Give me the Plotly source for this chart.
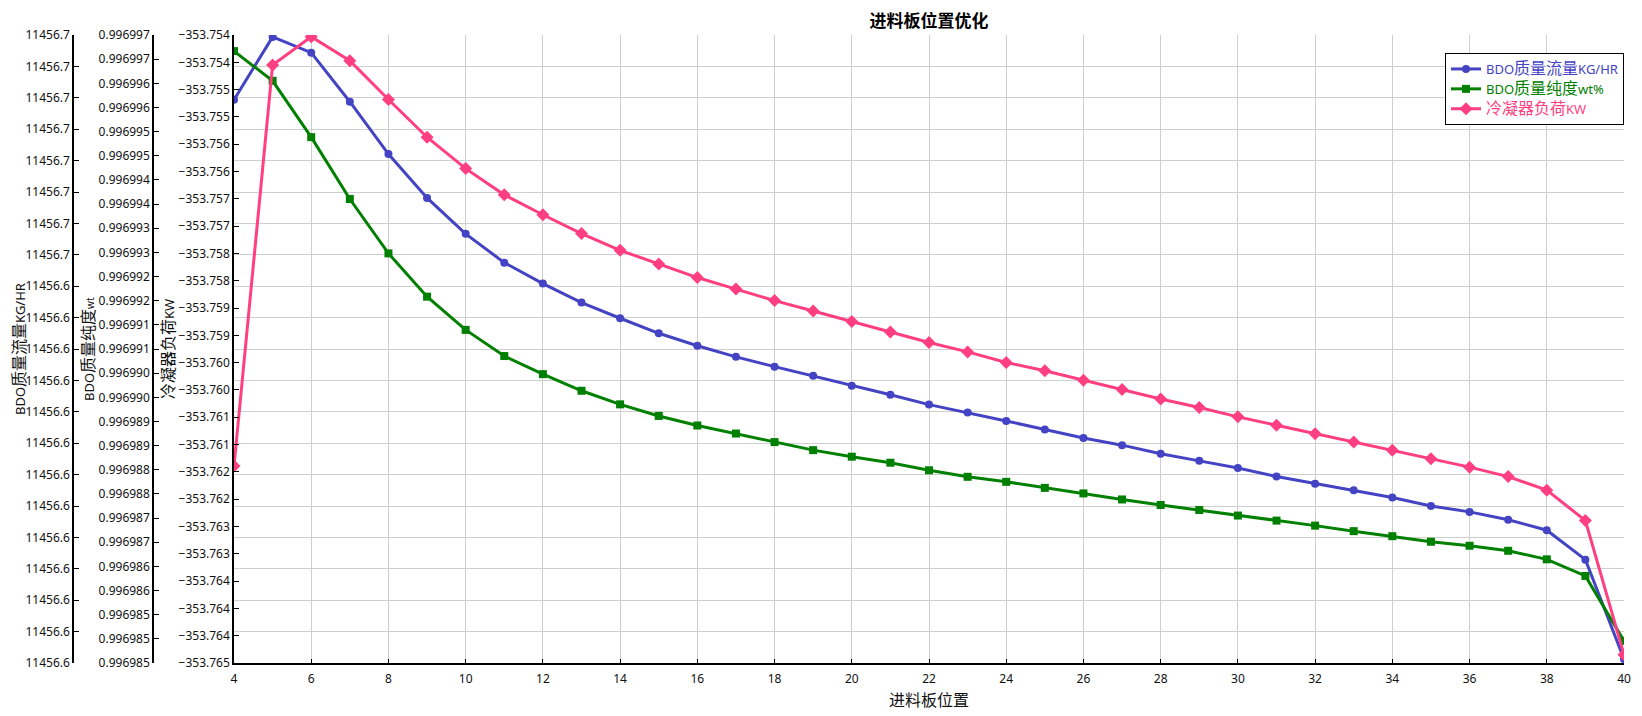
import numpy as np
import plotly.graph_objects as go

# feed stage positions
stages = list(range(4, 41))

# BDO mass flow, KG/HR
bdo_flow = [
    11456.6761, 11456.6857, 11456.6833, 11456.6758, 11456.6678, 11456.6611,
    11456.6556, 11456.6512, 11456.6480, 11456.6451, 11456.6427, 11456.6404,
    11456.6385, 11456.6368, 11456.6353, 11456.6339, 11456.6324, 11456.6310,
    11456.6295, 11456.6283, 11456.6270, 11456.6257, 11456.6244, 11456.6233,
    11456.6220, 11456.6209, 11456.6198, 11456.6185, 11456.6174, 11456.6164,
    11456.6153, 11456.6140, 11456.6131, 11456.6119, 11456.6103, 11456.6058,
    11456.5906,
]

# BDO mass purity
bdo_purity = [
    0.99699668, 0.99699609, 0.99699497, 0.99699374, 0.99699266, 0.99699180,
    0.99699114, 0.99699062, 0.99699026, 0.99698993, 0.99698966, 0.99698943,
    0.99698924, 0.99698908, 0.99698891, 0.99698875, 0.99698862, 0.99698850,
    0.99698835, 0.99698822, 0.99698812, 0.99698800, 0.99698789, 0.99698777,
    0.99698766, 0.99698756, 0.99698745, 0.99698735, 0.99698725, 0.99698714,
    0.99698704, 0.99698693, 0.99698685, 0.99698675, 0.99698658, 0.99698625,
    0.99698496,
]

# condenser duty, KW
condenser_duty = [
    -353.761498, -353.754447, -353.753950, -353.754373, -353.755054, -353.755717,
    -353.756269, -353.756730, -353.757080, -353.757411, -353.757705, -353.757945,
    -353.758184, -353.758387, -353.758589, -353.758773, -353.758958, -353.759142,
    -353.759326, -353.759491, -353.759676, -353.759823, -353.759989, -353.760154,
    -353.760320, -353.760467, -353.760633, -353.760780, -353.760928, -353.761075,
    -353.761222, -353.761369, -353.761517, -353.761683, -353.761922, -353.762456,
    -353.764813,
]

# page body has an 8px margin, so the figure is a bit smaller than the window
W, H = 1634, 708
PLOT_L, PLOT_R, PLOT_T, PLOT_B = 226, 1616, 27, 655

BLUE = "#4343C4"
GREEN = "#008000"
PINK = "#FF3F80"
FONT = "Noto Sans, Noto Sans CJK SC, sans-serif"
CJK = "Noto Sans CJK SC, Noto Sans, sans-serif"

# axis ranges / ticks
flow_lo, flow_step, flow_n = 11456.59, 0.0048, 21
pur_lo, pur_step, pur_n = 0.99698452, 0.00000048, 27
duty_hi, duty_step, duty_n = -353.75392, 0.00048, 24

flow_ticks = flow_lo + flow_step * np.arange(flow_n)
pur_ticks = pur_lo + pur_step * np.arange(pur_n)
duty_ticks = duty_hi - duty_step * np.arange(duty_n)


def big(text):
    return f"<span style='font-size:16px'>{text}</span>"


def colored(text, color):
    return f"<span style='color:{color}'>{text}</span>"


flow_label = "BDO" + big("质量流量") + "KG/HR"
purity_label = "BDO" + big("质量纯度") + "wt%"
duty_label = big("冷凝器负荷") + "KW"


def px_x(px):
    return px / W


def px_y(py):
    # paper y is measured inside the margins
    return (PLOT_B - py) / (PLOT_B - PLOT_T)


fig = go.Figure()

fig.add_trace(
    go.Scatter(
        x=stages, y=bdo_flow, name=colored(flow_label, BLUE), yaxis="y",
        mode="lines+markers",
        line={"color": BLUE, "width": 3},
        marker={"color": BLUE, "size": 8, "symbol": "circle"},
    )
)
fig.add_trace(
    go.Scatter(
        x=stages, y=bdo_purity, name=colored(purity_label, GREEN), yaxis="y2",
        mode="lines+markers",
        line={"color": GREEN, "width": 3},
        marker={"color": GREEN, "size": 8, "symbol": "square"},
    )
)
fig.add_trace(
    go.Scatter(
        x=stages, y=condenser_duty, name=colored(duty_label, PINK), yaxis="y3",
        mode="lines+markers",
        line={"color": PINK, "width": 3},
        marker={"color": PINK, "size": 10, "symbol": "diamond"},
    )
)

yaxis_common = dict(
    showline=True, linecolor="black", linewidth=1.5,
    ticks="inside", ticklen=5, tickcolor="black", tickwidth=1,
    tickfont={"family": FONT, "size": 12, "color": "#111"},
    zeroline=False, automargin=False,
    domain=[0, 1],
)

fig.update_layout(
    width=W, height=H,
    margin={"l": 0, "r": 0, "t": PLOT_T, "b": H - PLOT_B},
    paper_bgcolor="white", plot_bgcolor="white",
    showlegend=True,
    title={
        "text": "<b>进料板位置优化</b>",
        "x": (PLOT_L + PLOT_R) / 2 / W, "xanchor": "center",
        "y": 1 - 13 / H, "yanchor": "middle",
        "font": {"family": CJK, "size": 17, "color": "black"},
    },
    xaxis=dict(
        domain=[PLOT_L / W, PLOT_R / W],
        range=[4, 40], tickmode="linear", tick0=4, dtick=2,
        showline=True, linecolor="black", linewidth=1.5,
        ticks="inside", ticklen=4, tickcolor="black",
        showgrid=True, gridcolor="#CFCFCF", gridwidth=1,
        zeroline=False, automargin=False,
        tickfont={"family": FONT, "size": 12, "color": "#111"},
        ticklabelstandoff=4,
    ),
    yaxis=dict(
        yaxis_common,
        anchor="free", position=px_x(65),
        range=[flow_ticks[0], flow_ticks[-1]],
        tickmode="array", tickvals=flow_ticks, tickformat=".1f",
        showgrid=True, gridcolor="#CFCFCF", gridwidth=1,
    ),
    yaxis2=dict(
        yaxis_common,
        overlaying="y", anchor="free", position=px_x(145),
        range=[pur_ticks[0], pur_ticks[-1]],
        tickmode="array", tickvals=pur_ticks, tickformat=".6f",
        showgrid=False,
    ),
    yaxis3=dict(
        yaxis_common,
        overlaying="y", anchor="x", side="left",
        range=[duty_ticks[-1], duty_ticks[0]],
        tickmode="array", tickvals=duty_ticks, tickformat=".3f",
        showgrid=False,
    ),
    legend=dict(
        x=PLOT_R / W, xanchor="right", y=px_y(45), yanchor="top",
        bgcolor="white", bordercolor="black", borderwidth=1,
        font={"family": FONT, "size": 13},
        tracegroupgap=0, itemwidth=30,
    ),
)

axis_titles = [
    ("BDO" + big("质量流量") + "KG/HR", 11),
    ("BDO" + big("质量纯度") + "<span style='font-size:10px'>wt</span>", 80),
    (duty_label, 160),
]
for text, xpx in axis_titles:
    fig.add_annotation(
        text=text, x=px_x(xpx), y=0.5, xref="paper", yref="paper",
        textangle=-90, showarrow=False, xanchor="center", yanchor="middle",
        borderpad=0,
        font={"family": FONT, "size": 13, "color": "#111"},
    )

fig.add_annotation(
    text=big("进料板位置"), x=(PLOT_L + PLOT_R) / 2 / W, y=px_y(692),
    xref="paper", yref="paper", showarrow=False,
    xanchor="center", yanchor="middle",
    font={"family": FONT, "size": 14, "color": "#111"},
)

fig.write_html("out.html")
